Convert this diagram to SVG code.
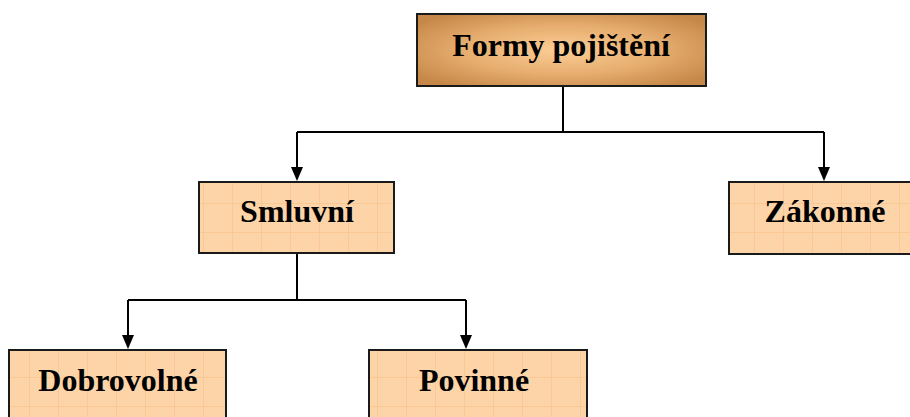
<svg xmlns="http://www.w3.org/2000/svg" width="910" height="417" viewBox="0 0 910 417">
<defs>
<radialGradient id="g" cx="50%" cy="50%" r="62%">
<stop offset="0" stop-color="#fccd96"/>
<stop offset="0.55" stop-color="#e6ad6e"/>
<stop offset="1" stop-color="#c68849"/>
</radialGradient>
<pattern id="grid" width="29" height="29" patternUnits="userSpaceOnUse">
<rect width="29" height="29" fill="#fdd4a8"/>
<path d="M0 0.5H29M0.5 0V29" stroke="#fac894" stroke-width="1" fill="none"/>
</pattern>
</defs>
<style>
.box{stroke:#1a1a1a;stroke-width:2}
.t{font-family:"Liberation Serif","Times New Roman",serif;font-weight:bold;font-size:32px;text-anchor:middle;fill:#000}
.c{stroke:#000;stroke-width:2;fill:none}
</style>
<g id="connectors">
<path class="c" d="M563 86V132M297 132H824"/>
<path class="c" d="M297 132V168"/>
<path class="c" d="M824 132V168"/>
<path d="M291 167H303L297 181Z"/>
<path d="M818 167H830L824 181Z"/>
<path class="c" d="M297 253V300M128 300H466"/>
<path class="c" d="M128 300V336"/>
<path class="c" d="M466 300V336"/>
<path d="M122 335H134L128 349Z"/>
<path d="M460 335H472L466 349Z"/>
</g>
<g id="formy">
<rect class="box" x="417" y="14" width="289" height="72" fill="url(#g)"/>
<text class="t" x="561" y="56">Formy pojištění</text>
</g>
<g id="smluvni">
<rect class="box" x="199" y="182" width="195" height="71" fill="url(#grid)"/>
<text class="t" x="297" y="222">Smluvní</text>
</g>
<g id="zakonne">
<rect class="box" x="729" y="182" width="185" height="72" fill="url(#grid)"/>
<text class="t" x="825" y="222">Zákonné</text>
</g>
<g id="dobrovolne">
<rect class="box" x="9" y="350" width="217" height="80" fill="url(#grid)"/>
<text class="t" x="118" y="391">Dobrovolné</text>
</g>
<g id="povinne">
<rect class="box" x="369" y="350" width="218" height="80" fill="url(#grid)"/>
<text class="t" x="474" y="391">Povinné</text>
</g>
</svg>
